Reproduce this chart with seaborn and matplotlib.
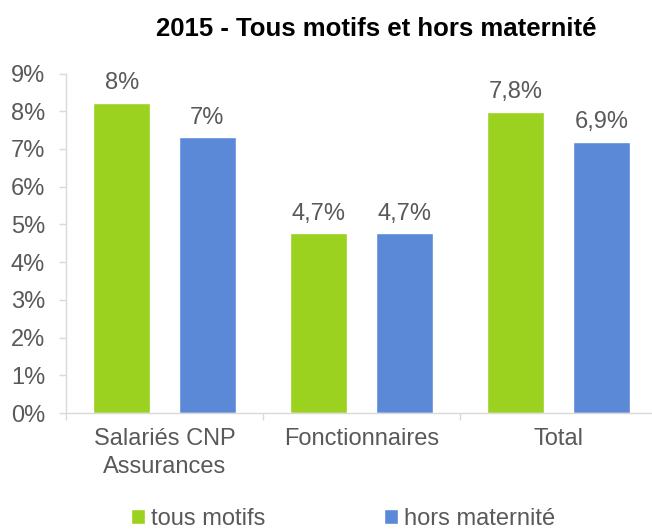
import pandas as pd
import seaborn as sns
import matplotlib
matplotlib.use('Agg')
import matplotlib.pyplot as plt
from matplotlib.patches import Patch

# données (en %)
groupes = ['Salariés CNP\nAssurances', 'Fonctionnaires', 'Total']
series = ['tous motifs', 'hors maternité']
tous_motifs = [8.23, 4.76, 7.99]
hors_maternite = [7.31, 4.76, 7.19]
labels_tous = ['8%', '4,7%', '7,8%']
labels_hors = ['7%', '4,7%', '6,9%']
yticks = [0, 1, 2, 3, 4, 5, 6, 7, 8, 9]

vert = '#9BD21F'
bleu = '#5B89D8'
gris = '#595959'
gris_axe = '#D9D9D9'

df = pd.DataFrame({
    'groupe': groupes * 2,
    'serie': [series[0]] * 3 + [series[1]] * 3,
    'valeur': tous_motifs + hors_maternite,
})

sns.set_style('white')
plt.rcParams['font.family'] = ['Liberation Sans', 'DejaVu Sans']

fig = plt.figure(figsize=(6.52, 5.29), dpi=100)
ax = fig.add_axes([66 / 652, 1 - 413 / 529, 591 / 652, 339.5 / 529])

sns.barplot(data=df, x='groupe', y='valeur', hue='serie', palette=[vert, bleu],
            saturation=1, width=0.87, gap=0.34, ax=ax, legend=False)

for cont, labs in zip(ax.containers, [labels_tous, labels_hors]):
    ax.bar_label(cont, labels=labs, padding=6, fontsize=17, color=gris)

ax.set_xlim(-0.5, 2.5)
ax.set_ylim(0, 9)
ax.set_yticks(yticks)
ax.set_yticklabels([f'{v}%' for v in yticks])
ax.set_xlabel('')
ax.set_ylabel('')

for s in ['top', 'right']:
    ax.spines[s].set_visible(False)
for s in ['left', 'bottom']:
    ax.spines[s].set_color(gris_axe)
    ax.spines[s].set_linewidth(1)

ax.tick_params(axis='y', length=5, width=1, color=gris_axe, pad=10,
               labelsize=17, labelcolor=gris, left=True)
ax.tick_params(axis='x', which='major', length=0, pad=11,
               labelsize=17, labelcolor=gris)
ax.set_xticks([-0.5, 0.5, 1.5, 2.5], minor=True)
ax.tick_params(axis='x', which='minor', length=5, width=1, color=gris_axe,
               direction='out', bottom=True)
for t in ax.get_xticklabels():
    t.set_linespacing(1.32)

fig.text(376 / 652, 1 - 29 / 529, '2015 - Tous motifs et hors maternité',
         ha='center', va='center', fontsize=18.5, fontweight='bold', color='black')

handles = [Patch(facecolor=vert), Patch(facecolor=bleu)]
fig.legend(handles, series, loc='center', bbox_to_anchor=(343 / 652, 1 - 519 / 529),
           ncol=2, frameon=False, fontsize=17, labelcolor=gris,
           handlelength=0.6, handleheight=0.6, handletextpad=0.25,
           columnspacing=5.05, borderpad=0)

fig.savefig('out.png', dpi=100)
